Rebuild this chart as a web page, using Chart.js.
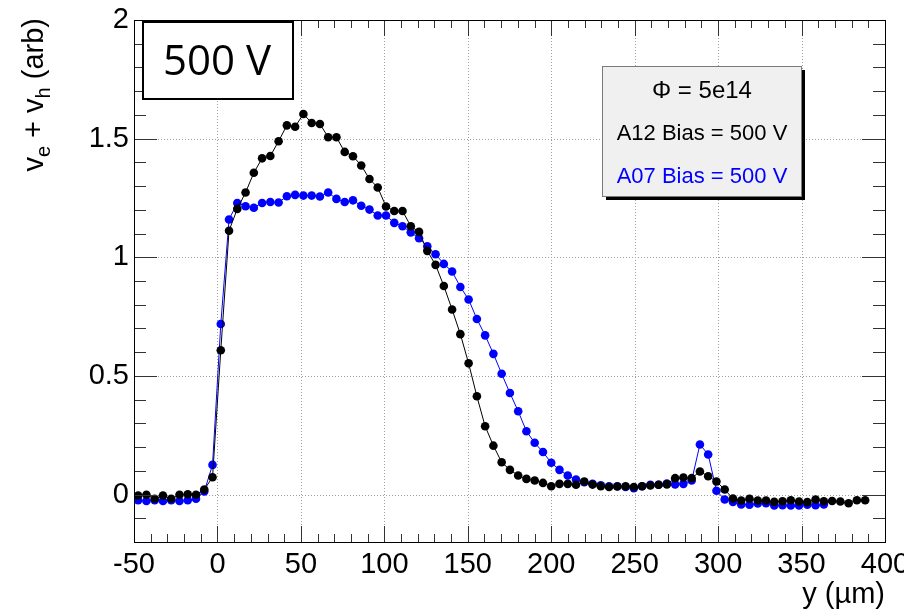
<!DOCTYPE html>
<html>
<head>
<meta charset="utf-8">
<script src="https://cdn.jsdelivr.net/npm/chart.js@4/dist/chart.umd.min.js"></script>
<style>
html,body{margin:0;padding:0;background:#fff;}
canvas{display:block;}
</style>
</head>
<body>
<canvas id="c" width="904" height="610"></canvas>
<script>
// ---- data ----
const positions = [-47.5,-42.55,-37.6,-32.65,-27.7,-22.75,-17.8,-12.85,-7.9,-2.95,
  2.0,6.95,11.9,16.85,21.8,26.75,31.7,36.65,41.6,46.55,
  51.5,56.45,61.4,66.35,71.3,76.25,81.2,86.15,91.1,96.05,
  101.0,105.95,110.9,115.85,120.8,125.75,130.7,135.65,140.6,145.55,
  150.5,155.45,160.4,165.35,170.3,175.25,180.2,185.15,190.1,195.05,
  200.0,204.95,209.9,214.85,219.8,224.75,229.7,234.65,239.6,244.55,
  249.5,254.45,259.4,264.35,269.3,274.25,279.2,284.15,289.1,294.05,
  299.0,303.95,308.9,313.85,318.8,323.75,328.7,333.65,338.6,343.55,
  348.5,353.45,358.4,363.35,368.3,373.25,378.2,383.15,388.1];

const a12 = [-0.004,-0.001,-0.018,-0.004,-0.018,-0.001,0.001,-0.001,0.021,0.073,
  0.608,1.112,1.204,1.273,1.356,1.417,1.427,1.489,1.556,1.550,
  1.604,1.566,1.562,1.506,1.506,1.444,1.426,1.387,1.330,1.294,
  1.214,1.195,1.195,1.131,1.107,1.027,0.968,0.879,0.780,0.676,
  0.553,0.414,0.288,0.206,0.136,0.104,0.080,0.066,0.059,0.049,
  0.035,0.045,0.045,0.041,0.055,0.042,0.035,0.032,0.034,0.035,
  0.032,0.035,0.038,0.041,0.043,0.069,0.072,0.069,0.097,0.077,
  0.055,0.021,-0.017,-0.025,-0.018,-0.025,-0.025,-0.031,-0.028,-0.024,
  -0.029,-0.032,-0.021,-0.028,-0.027,-0.029,-0.037,-0.024,-0.024];

const a07 = [-0.024,-0.027,-0.024,-0.027,-0.024,-0.027,-0.024,-0.018,0.013,0.125,
  0.719,1.159,1.229,1.215,1.209,1.229,1.233,1.231,1.257,1.263,
  1.260,1.260,1.256,1.273,1.246,1.233,1.240,1.217,1.201,1.176,
  1.176,1.145,1.131,1.105,1.080,1.046,1.013,0.972,0.940,0.875,
  0.822,0.740,0.671,0.593,0.509,0.428,0.351,0.267,0.218,0.179,
  0.134,0.104,0.080,0.063,0.052,0.045,0.039,0.035,0.035,0.032,
  0.027,0.035,0.041,0.041,0.046,0.043,0.045,0.059,0.211,0.169,
  0.016,-0.021,-0.031,-0.042,-0.043,-0.038,-0.037,-0.046,-0.045,-0.046,
  -0.046,-0.043,-0.045,-0.042];

const xTicks = [-50,0,50,100,150,200,250,300,350,400];
const yTicks = [0,0.5,1,1.5,2];
const seriesNames = ['A12 Bias = 500 V','A07 Bias = 500 V'];
const legendTitle = '\u03A6 = 5e14';
const panelLabel = '500 V';

// ---- chart ----
const FONT = '"Liberation Sans", Arial, sans-serif';

const toPts = (vals) => vals.map((v,i)=>({x: positions[i], y: v}));

const rootStyle = {
  id: 'rootStyle',
  beforeDatasetsDraw(chart){
    const {ctx, chartArea:a, scales:{x,y}} = chart;
    ctx.save();
    ctx.strokeStyle = '#a0a0a0';
    ctx.lineWidth = 1;
    ctx.setLineDash([1,2]);
    xTicks.forEach(v=>{
      if (v<=x.min || v>=x.max) return;
      const px = Math.round(x.getPixelForValue(v))+0.5;
      ctx.beginPath(); ctx.moveTo(px,a.top); ctx.lineTo(px,a.bottom); ctx.stroke();
    });
    yTicks.forEach(v=>{
      if (v<=y.min || v>=y.max) return;
      const py = Math.round(y.getPixelForValue(v))+0.5;
      ctx.beginPath(); ctx.moveTo(a.left,py); ctx.lineTo(a.right,py); ctx.stroke();
    });
    ctx.restore();
  },
  afterDatasetsDraw(chart){
    const {ctx, chartArea:a, scales:{x,y}} = chart;
    ctx.save();
    ctx.lineWidth = 1;
    ctx.strokeStyle = '#333';
    for (let v=-50; v<=400; v+=10){
      const major = (v % 50 === 0);
      const len = major ? 16 : 8;
      const px = Math.round(x.getPixelForValue(v))+0.5;
      ctx.beginPath(); ctx.moveTo(px,a.bottom); ctx.lineTo(px,a.bottom-len); ctx.stroke();
      ctx.beginPath(); ctx.moveTo(px,a.top); ctx.lineTo(px,a.top+len); ctx.stroke();
    }
    for (let i=-2; i<=20; i++){
      const v = i/10;
      const major = (i % 5 === 0);
      const len = major ? 23 : 12;
      const py = Math.round(y.getPixelForValue(v))+0.5;
      ctx.beginPath(); ctx.moveTo(a.left,py); ctx.lineTo(a.left+len,py); ctx.stroke();
      ctx.beginPath(); ctx.moveTo(a.right,py); ctx.lineTo(a.right-len,py); ctx.stroke();
    }
    ctx.strokeStyle = '#000';
    ctx.strokeRect(Math.round(a.left)+0.5, Math.round(a.top)+0.5,
                   Math.round(a.right-a.left), Math.round(a.bottom-a.top));
    ctx.restore();
  },
  afterDraw(chart){
    const {ctx} = chart;
    ctx.save();
    // panel label box
    ctx.fillStyle = '#fff';
    ctx.fillRect(142,21,151,78);
    ctx.strokeStyle = '#000';
    ctx.lineWidth = 2;
    ctx.strokeRect(143,22,150,77);
    ctx.fillStyle = '#000';
    ctx.font = '42px "Open Sans", sans-serif';
    ctx.textAlign = 'center';
    ctx.textBaseline = 'alphabetic';
    ctx.fillText(panelLabel, 217, 75);

    // legend box with shadow
    ctx.fillStyle = '#000';
    ctx.fillRect(606,70,199,130);
    ctx.fillStyle = '#f0f0f0';
    ctx.fillRect(602.5,66.5,199,130);
    ctx.lineWidth = 1;
    ctx.strokeStyle = '#7a7a7a';
    ctx.strokeRect(602.5,66.5,199,130);
    ctx.textAlign = 'center';
    ctx.fillStyle = '#000';
    ctx.font = '24px ' + FONT;
    ctx.fillText(legendTitle, 702, 98);
    ctx.font = '22px ' + FONT;
    ctx.fillText(seriesNames[0], 702, 140);
    ctx.fillStyle = '#0000ff';
    ctx.fillText(seriesNames[1], 702, 183);

    // x title
    ctx.fillStyle = '#000';
    ctx.font = '29px ' + FONT;
    ctx.textAlign = 'right';
    ctx.fillText('y (\u00B5m)', 885, 603);

    // y title, rotated, with subscripts
    const segs = [['v',29,0],['e',20,7],[' + v',29,0],['h',20,7],[' (arb)',29,0]];
    ctx.translate(43, 18);
    ctx.rotate(-Math.PI/2);
    ctx.textAlign = 'left';
    let total = 0;
    segs.forEach(s=>{ ctx.font = s[1]+'px '+FONT; total += ctx.measureText(s[0]).width; });
    let cx = -total;
    segs.forEach(s=>{
      ctx.font = s[1]+'px '+FONT;
      ctx.fillText(s[0], cx, s[2]);
      cx += ctx.measureText(s[0]).width;
    });
    ctx.restore();
  }
};

new Chart(document.getElementById('c'), {
  type: 'line',
  data: {
    datasets: [
      {
        label: seriesNames[0],
        data: toPts(a12),
        borderColor: '#000',
        backgroundColor: '#000',
        borderWidth: 1,
        pointRadius: 4.3,
        pointBorderWidth: 0,
        pointHoverRadius: 4.3,
        tension: 0
      },
      {
        label: seriesNames[1],
        data: toPts(a07),
        borderColor: '#0000ff',
        backgroundColor: '#0000ff',
        borderWidth: 1,
        pointRadius: 4.3,
        pointBorderWidth: 0,
        pointHoverRadius: 4.3,
        tension: 0
      }
    ]
  },
  options: {
    responsive: false,
    animation: false,
    devicePixelRatio: 1,
    layout: { padding: { left: 0, top: 20, right: 19, bottom: 0 } },
    plugins: { legend: { display: false }, tooltip: { enabled: false } },
    scales: {
      x: {
        type: 'linear',
        min: -50, max: 400,
        grid: { display: false, drawTicks: false },
        border: { display: false },
        afterBuildTicks(s){ s.ticks = xTicks.map(v=>({value:v})); },
        afterFit(s){ s.height = 68; s.paddingLeft = 0; s.paddingRight = 0; },
        ticks: {
          autoSkip: false, maxRotation: 0, padding: 6,
          color: '#000',
          font: { family: FONT, size: 29 },
          callback: (v)=> String(v)
        }
      },
      y: {
        type: 'linear',
        min: -0.2, max: 2,
        grid: { display: false, drawTicks: false },
        border: { display: false },
        afterBuildTicks(s){ s.ticks = yTicks.map(v=>({value:v})); },
        afterFit(s){ s.width = 134; s.paddingTop = 0; s.paddingBottom = 0; },
        ticks: {
          autoSkip: false, padding: 5,
          color: '#000',
          font: { family: FONT, size: 29 },
          callback: (v)=> String(v)
        }
      }
    }
  },
  plugins: [rootStyle]
});
</script>
</body>
</html>
